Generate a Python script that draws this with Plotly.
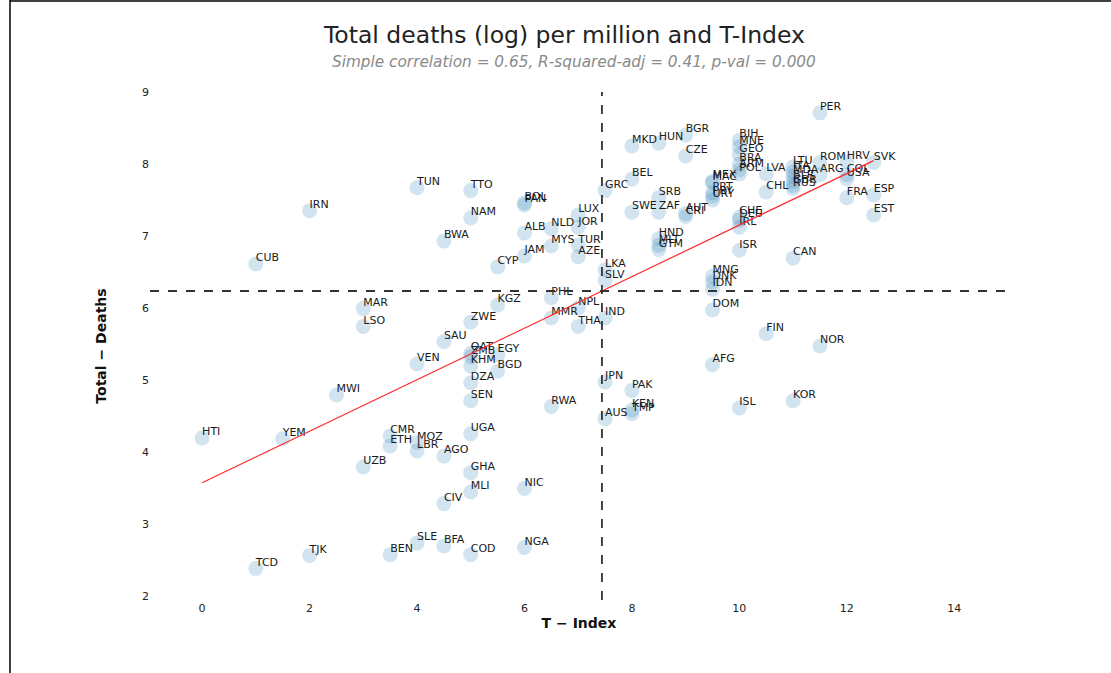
import numpy as np
import plotly.graph_objects as go

codes = ["HTI","TCD","CUB","YEM","TJK","IRN","MWI","MAR","LSO","UZB",
         "CMR","ETH","BEN","VEN","TUN","MOZ","LBR","SLE","BWA","SAU",
         "AGO","CIV","BFA","TTO","NAM","ZWE","QAT","ZMB","KHM","DZA",
         "SEN","UGA","GHA","MLI","COD","EGY","BGD","KGZ","CYP","ALB",
         "BOL","PAN","JAM","NIC","NGA","NLD","MYS","PHL","MMR","RWA",
         "LUX","JOR","TUR","AZE","NPL","THA","GRC","LKA","SLV","IND",
         "JPN","AUS","BEL","MKD","SWE","PAK","KEN","TMP","HUN","SRB",
         "ZAF","HND","MLT","GTM","BGR","CZE","AUT","CRI","MEX","MAC",
         "PRT","PRY","URY","MNG","DNK","IDN","DOM","AFG","BIH","MNE",
         "GEO","BRA","ARM","POL","CHE","DEU","IRL","ISR","ISL","LVA",
         "CHL","FIN","LTU","ITA","MDA","BLR","GBR","RUS","CAN","KOR",
         "PER","ROM","ARG","NOR","HRV","COL","USA","FRA","SVK","ESP","EST"]

t_index = [0, 1, 1, 1.5, 2, 2, 2.5, 3, 3, 3,
           3.5, 3.5, 3.5, 4, 4, 4, 4, 4, 4.5, 4.5,
           4.5, 4.5, 4.5, 5, 5, 5, 5, 5, 5, 5,
           5, 5, 5, 5, 5, 5.5, 5.5, 5.5, 5.5, 6,
           6, 6, 6, 6, 6, 6.5, 6.5, 6.5, 6.5, 6.5,
           7, 7, 7, 7, 7, 7, 7.5, 7.5, 7.5, 7.5,
           7.5, 7.5, 8, 8, 8, 8, 8, 8, 8.5, 8.5,
           8.5, 8.5, 8.5, 8.5, 9, 9, 9, 9, 9.5, 9.5,
           9.5, 9.5, 9.5, 9.5, 9.5, 9.5, 9.5, 9.5, 10, 10,
           10, 10, 10, 10, 10, 10, 10, 10, 10, 10.5,
           10.5, 10.5, 11, 11, 11, 11, 11, 11, 11, 11,
           11.5, 11.5, 11.5, 11.5, 12, 12, 12, 12, 12.5, 12.5, 12.5]

deaths = [4.19, 2.38, 6.61, 4.18, 2.56, 7.35, 4.79, 5.99, 5.74, 3.79,
          4.22, 4.08, 2.57, 5.22, 7.67, 4.13, 4.01, 2.73, 6.93, 5.53,
          3.94, 3.28, 2.69, 7.63, 7.25, 5.80, 5.37, 5.32, 5.19, 4.96,
          4.71, 4.25, 3.71, 3.44, 2.57, 5.35, 5.12, 6.04, 6.57, 7.04,
          7.46, 7.43, 6.72, 3.49, 2.67, 7.10, 6.86, 6.14, 5.86, 4.63,
          7.29, 7.12, 6.87, 6.71, 6.00, 5.74, 7.63, 6.53, 6.38, 5.86,
          4.97, 4.46, 7.79, 8.25, 7.33, 4.85, 4.58, 4.53, 8.29, 7.53,
          7.33, 6.96, 6.87, 6.81, 8.40, 8.11, 7.31, 7.27, 7.76, 7.74,
          7.60, 7.55, 7.50, 6.44, 6.36, 6.26, 5.97, 5.21, 8.33, 8.24,
          8.13, 8.00, 7.92, 7.86, 7.26, 7.22, 7.12, 6.80, 4.61, 7.86,
          7.61, 5.64, 7.96, 7.89, 7.83, 7.76, 7.70, 7.66, 6.69, 4.71,
          8.71, 8.02, 7.85, 5.47, 8.03, 7.85, 7.79, 7.53, 8.02, 7.57, 7.29]

title_text = "Total deaths (log) per million and T-Index"
subtitle_text = "Simple correlation = 0.65, R-squared-adj = 0.41, p-val = 0.000"
x_title = "T − Index"
y_title = "Total − Deaths"
x_ticks = [0, 2, 4, 6, 8, 10, 12, 14]
y_ticks = [2, 3, 4, 5, 6, 7, 8, 9]

x = np.array(t_index, dtype=float)
y = np.array(deaths, dtype=float)
slope, intercept = np.polyfit(x, y, 1)
x_fit = np.array([x.min(), x.max()])
y_fit = intercept + slope * x_fit
x_mean = x.mean()
y_mean = y.mean()

X_RANGE = [-0.97, 15.0]
Y_RANGE = [1.94, 9.0]

fig = go.Figure()

fig.add_trace(go.Scatter(
    x=t_index, y=deaths, mode="markers",
    marker=dict(size=15, color="rgba(31,119,180,0.2)", line=dict(width=0)),
    hoverinfo="skip", showlegend=False))

fig.add_trace(go.Scatter(
    x=t_index, y=deaths, mode="text", text=codes,
    textposition="top right",
    textfont=dict(family="DejaVu Sans", size=11, color="#1a1a1a"),
    hoverinfo="skip", showlegend=False))

fig.add_trace(go.Scatter(
    x=x_fit, y=y_fit, mode="lines",
    line=dict(color="#ff2a2a", width=1.2),
    hoverinfo="skip", showlegend=False))

fig.add_trace(go.Scatter(
    x=X_RANGE, y=[y_mean, y_mean], mode="lines",
    line=dict(color="#333333", width=1.8, dash="dash"),
    hoverinfo="skip", showlegend=False))

fig.add_trace(go.Scatter(
    x=[x_mean, x_mean], y=Y_RANGE, mode="lines",
    line=dict(color="#333333", width=1.8, dash="dash"),
    hoverinfo="skip", showlegend=False))

W, H = 1111, 673
ml, mr, mt, mb = 150, 103, 92, 73
pw = W - ml - mr
ph = H - mt - mb

def px_to_paper_x(px):
    return (px - ml) / pw

def px_to_paper_y(py):
    return (H - mb - py) / ph

fig.update_layout(
    width=W, height=H,
    margin=dict(l=ml, r=mr, t=mt, b=mb),
    paper_bgcolor="white", plot_bgcolor="white",
    font=dict(family="DejaVu Sans", size=11, color="#222222"),
    xaxis=dict(range=X_RANGE, tickvals=x_ticks, showgrid=False, zeroline=False,
               showline=False, ticks="", tickfont=dict(size=11, color="#222222"),
               title=dict(text="<b>" + x_title + "</b>", font=dict(size=14, color="#111111"), standoff=4)),
    yaxis=dict(range=Y_RANGE, tickvals=y_ticks, showgrid=False, zeroline=False,
               showline=False, ticks="", tickfont=dict(size=11, color="#222222"),
               title=dict(text="<b>" + y_title + "</b>", font=dict(size=14, color="#111111"), standoff=32)),
    annotations=[
        dict(text=title_text, xref="paper", yref="paper",
             x=px_to_paper_x(564), y=px_to_paper_y(35), xanchor="center", yanchor="middle",
             showarrow=False, font=dict(family="DejaVu Sans", size=23.5, color="#222222")),
        dict(text="<i>" + subtitle_text + "</i>", xref="paper", yref="paper",
             x=px_to_paper_x(574), y=px_to_paper_y(62), xanchor="center", yanchor="middle",
             showarrow=False, font=dict(family="DejaVu Sans", size=15.3, color="#8a8a8a")),
    ],
    shapes=[
        dict(type="line", xref="paper", yref="paper",
             x0=px_to_paper_x(10), x1=px_to_paper_x(10), y0=px_to_paper_y(0), y1=px_to_paper_y(673),
             line=dict(color="black", width=1.5)),
        dict(type="line", xref="paper", yref="paper",
             x0=px_to_paper_x(10), x1=px_to_paper_x(1111), y0=px_to_paper_y(1), y1=px_to_paper_y(1),
             line=dict(color="black", width=1.5)),
    ],
)

fig.write_html("out.html",
               config={"displayModeBar": False},
               post_script="document.body.style.margin='0';document.body.style.overflow='hidden';")
